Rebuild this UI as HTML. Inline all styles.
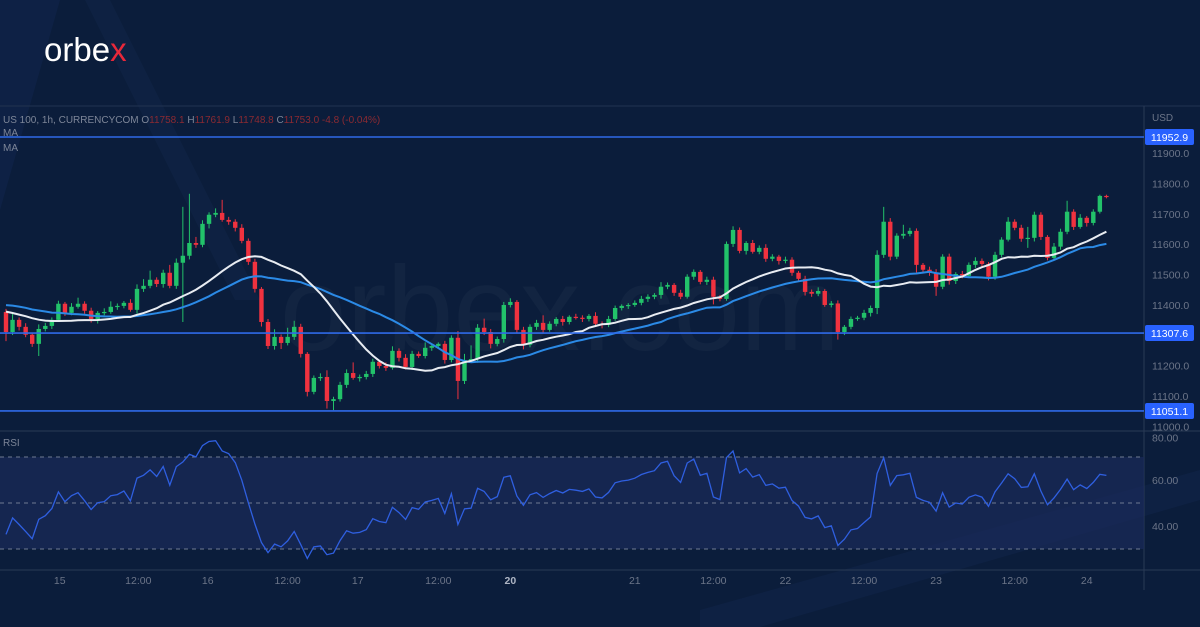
<!DOCTYPE html>
<html><head><meta charset="utf-8"><style>
html,body{margin:0;padding:0;background:#0b1d3b;}
svg{display:block;font-family:"Liberation Sans",sans-serif;}
</style></head><body>
<svg id="chart" width="1200" height="627" viewBox="0 0 1200 627" xmlns="http://www.w3.org/2000/svg">
<rect x="0" y="0" width="1200" height="627" fill="#0b1d3b"/>
<polygon points="0,0 60,0 0,210" fill="#10244a" opacity="0.7"/>
<polygon points="85,0 110,0 260,300 235,300" fill="#11264a" opacity="0.5"/>
<polygon points="700,610 1200,470 1200,500 760,627 700,627" fill="#10254a" opacity="0.6"/>
<text x="44" y="61" font-size="33" fill="#ffffff">orbe<tspan fill="#e8283a">x</tspan></text>
<text x="560" y="350" font-size="120" fill="#ffffff" fill-opacity="0.03" text-anchor="middle">orbex.com</text>
<line x1="0" y1="106" x2="1200" y2="106" stroke="#223350" stroke-width="1"/>
<line x1="1144" y1="106" x2="1144" y2="590" stroke="#2a3a56" stroke-width="1"/>
<line x1="0" y1="431" x2="1200" y2="431" stroke="#2a3a56" stroke-width="1"/>
<line x1="0" y1="570" x2="1200" y2="570" stroke="#2a3a56" stroke-width="1"/>
<text x="3" y="123" font-size="10" fill="#7d8698">US 100, 1h, CURRENCYCOM  O<tspan fill="#8b2a32">11758.1</tspan>  H<tspan fill="#8b2a32">11761.9</tspan>  L<tspan fill="#8b2a32">11748.8</tspan>  C<tspan fill="#8b2a32">11753.0</tspan>  <tspan fill="#8b2a32">-4.8 (-0.04%)</tspan></text>
<text x="3" y="136" font-size="10" fill="#7d8698">MA</text>
<text x="3" y="151" font-size="10" fill="#7d8698">MA</text>
<text x="1152" y="121" font-size="10" fill="#6c7588">USD</text>
<rect x="0" y="457" width="1144" height="92" fill="#1a2a58" fill-opacity="0.75"/>
<line x1="0" y1="457" x2="1144" y2="457" stroke="#6f7a92" stroke-dasharray="4,4"/>
<line x1="0" y1="503" x2="1144" y2="503" stroke="#6f7a92" stroke-dasharray="4,4"/>
<line x1="0" y1="549" x2="1144" y2="549" stroke="#6f7a92" stroke-dasharray="4,4"/>
<text x="3" y="446" font-size="10" fill="#7d8698">RSI</text>
<g id="g-price-ticks"></g>
<g id="g-rsi-ticks"></g>
<g id="g-time"></g>
<g id="g-candles"></g>
<g id="g-ma"></g>
<g id="g-levels"></g>
<g id="g-rsi"></g>
</svg>
<script>
const priorCloses=[11440,11430,11450,11420,11445,11460,11430,11440,11455,11435,11420,11445,11430,11410,11400,11420,11390,11380,11400,11370,11390,11360,11380,11350,11370,11340,11360,11330,11350,11377];
const closes=[11311,11351,11328,11302,11272,11321,11331,11351,11404,11374,
11394,11404,11381,11354,11374,11377,11394,11397,11407,11384,
11453,11463,11483,11469,11506,11463,11539,11562,11604,11598,
11667,11697,11703,11680,11674,11654,11611,11542,11453,11344,
11265,11295,11275,11295,11328,11239,11114,11160,11163,11084,
11090,11137,11176,11160,11163,11173,11213,11199,11193,11249,
11226,11196,11239,11232,11259,11265,11272,11219,11292,11150,
11219,11222,11325,11311,11272,11288,11400,11410,11318,11269,
11328,11341,11318,11338,11354,11344,11361,11358,11354,11364,
11338,11335,11354,11390,11397,11400,11407,11420,11427,11433,
11460,11466,11440,11427,11493,11509,11476,11483,11427,11420,
11601,11647,11578,11604,11575,11588,11552,11559,11545,11549,
11506,11486,11443,11437,11446,11400,11405,11311,11328,11354,
11358,11374,11390,11565,11674,11559,11628,11634,11644,11532,
11516,11506,11460,11559,11479,11502,11496,11532,11545,11535,
11493,11565,11615,11674,11654,11618,11621,11697,11624,11555,
11592,11641,11707,11657,11687,11670,11707,11759,11755];
const hiWick=[10,25,8,12,6,15,10,8,10,6,
12,20,8,10,6,12,18,8,6,12,
15,22,30,8,10,26,14,161,162,20,
12,8,15,43,10,8,12,8,10,6,
10,25,8,30,20,10,6,8,12,22,
8,10,12,35,8,10,10,6,12,15,
8,12,10,8,18,6,5,10,8,22,
20,45,12,30,10,8,10,12,6,10,
8,10,25,8,6,10,5,10,8,6,
12,8,10,8,5,6,8,10,8,6,
15,8,6,10,8,8,6,10,10,6,
8,12,8,6,10,8,12,8,6,10,
8,6,10,8,12,6,8,10,6,8,
6,10,8,15,49,12,8,30,10,8,
6,10,12,8,10,6,10,8,12,8,
6,10,8,15,8,10,36,10,8,6,
12,10,36,8,12,6,8,4,4];
const loWick=[30,10,12,8,10,40,8,10,6,10,
8,6,10,12,15,8,6,10,8,6,
12,10,8,10,12,8,10,195,12,10,
8,15,8,6,10,12,8,10,12,15,
10,12,20,8,10,12,15,8,10,25,
30,8,10,6,12,8,10,8,10,6,
12,8,10,6,8,10,6,12,8,60,
10,8,12,10,15,8,12,8,10,15,
8,10,12,6,8,12,8,6,10,8,
10,12,8,6,8,10,6,8,10,8,
12,8,10,8,6,10,8,10,25,8,
6,10,8,12,6,8,10,8,12,8,
10,8,12,10,8,6,8,25,10,8,
6,8,12,20,10,12,8,10,8,25,
12,10,30,8,12,10,8,6,10,8,
12,10,8,6,8,10,30,12,10,8,
6,10,8,10,6,12,8,6,4];
const priceTicks=[11000,11100,11200,11300,11400,11500,11600,11700,11800,11900];
const levels=[11952.9,11307.6,11051.1];
const rsiTicks=[40,60,80];
const timeLabels=["15","12:00","16","12:00","17","12:00","20","21","12:00","22","12:00","23","12:00","24"];
const timeIdx=[8.2,20.2,30.8,43,53.7,66,77,96,108,119,131,142,154,165];
const timeBold=[false,false,false,false,false,false,true,false,false,false,false,false,false,false];

const NS="http://www.w3.org/2000/svg";
function xOf(i){return 6+6.55*i;}
function yOf(p){return 137+(11952.9-p)*0.3038;}
function yR(v){return 503-(v-50)*2.32;}
function mk(tag,attrs,parent){const e=document.createElementNS(NS,tag);for(const k in attrs)e.setAttribute(k,attrs[k]);parent.appendChild(e);return e;}

const gT=document.getElementById('g-price-ticks');
priceTicks.forEach(p=>{const t=mk('text',{x:1152,y:yOf(p)+4,'font-size':10.5,fill:'#6c7588'},gT);t.textContent=p.toFixed(1);

});
const gRT=document.getElementById('g-rsi-ticks');
rsiTicks.forEach(v=>{const t=mk('text',{x:1152,y:yR(v)+(v===80?8:4),'font-size':10.5,fill:'#6c7588'},gRT);t.textContent=v.toFixed(2);

});
const gTime=document.getElementById('g-time');
timeLabels.forEach((l,k)=>{const t=mk('text',{x:xOf(timeIdx[k]),y:584,'font-size':10.5,fill:timeBold[k]?'#aeb5c4':'#6c7588','font-weight':timeBold[k]?'bold':'normal','text-anchor':'middle'},gTime);t.textContent=l;

});

const gC=document.getElementById('g-candles');
const firstOpen=priorCloses[priorCloses.length-1];
closes.forEach((c,i)=>{
  const o=i===0?firstOpen:closes[i-1];
  const up=c>=o;const col=up?'#22c26a':'#f0323f';
  const hi=Math.max(o,c)+hiWick[i], lo=Math.min(o,c)-loWick[i];
  const x=xOf(i);
  const w=mk('line',{x1:x,x2:x,y1:yOf(hi),y2:yOf(lo),stroke:col,'stroke-width':1},gC);
  
  
  const yt=yOf(Math.max(o,c)), yb=yOf(Math.min(o,c));
  const b=mk('rect',{x:x-2.2,y:yt,width:4.4,height:Math.max(1.2,yb-yt),fill:col},gC);
  
  
});

const all=priorCloses.concat(closes);const P=priorCloses.length;
function sma(n){return closes.map((_,i)=>{const j=i+P;const s=Math.max(0,j-n+1);let a=0;for(let k=s;k<=j;k++)a+=all[k];return a/(j-s+1);});}
function path(vals,fy,fx){return vals.map((v,i)=>(i?'L':'M')+fx(i).toFixed(1)+','+fy(v).toFixed(1)).join('');}
const gM=document.getElementById('g-ma');
const maSlow=sma(32), maFast=sma(20);
const p1=mk('path',{d:path(maSlow,yOf,xOf),fill:'none',stroke:'#2b8ae6','stroke-width':2},gM);


const p2=mk('path',{d:path(maFast,yOf,xOf),fill:'none',stroke:'#e8ecf2','stroke-width':2},gM);



const gL=document.getElementById('g-levels');
levels.forEach(p=>{
  const l=mk('line',{x1:0,x2:1144,y1:yOf(p),y2:yOf(p),stroke:'#2f6ae8','stroke-width':1.6},gL);
  
  
  const r=mk('rect',{x:1145,y:yOf(p)-8,width:49,height:16,rx:2,fill:'#2962ff'},gL);
  
  
  const t=mk('text',{x:1169.5,y:yOf(p)+4,'font-size':10.5,fill:'#ffffff','text-anchor':'middle'},gL);
  t.textContent=p.toFixed(1);
  
  
});

const N=14;let ag=0,al=0;const rsiAll=[];
for(let j=1;j<all.length;j++){
  const d=all[j]-all[j-1];const g=Math.max(d,0),l=Math.max(-d,0);
  if(j===1){ag=g;al=l;}
  ag=(ag*(N-1)+g)/N;al=(al*(N-1)+l)/N;
  rsiAll.push(100-100/(1+ag/(al||1e-6)));
}
const rsi=rsiAll.slice(P-1);
const gR=document.getElementById('g-rsi');
const rp=mk('path',{d:path(rsi,yR,xOf),fill:'none',stroke:'#2f5fe0','stroke-width':1.3},gR);


</script>
</body></html>
